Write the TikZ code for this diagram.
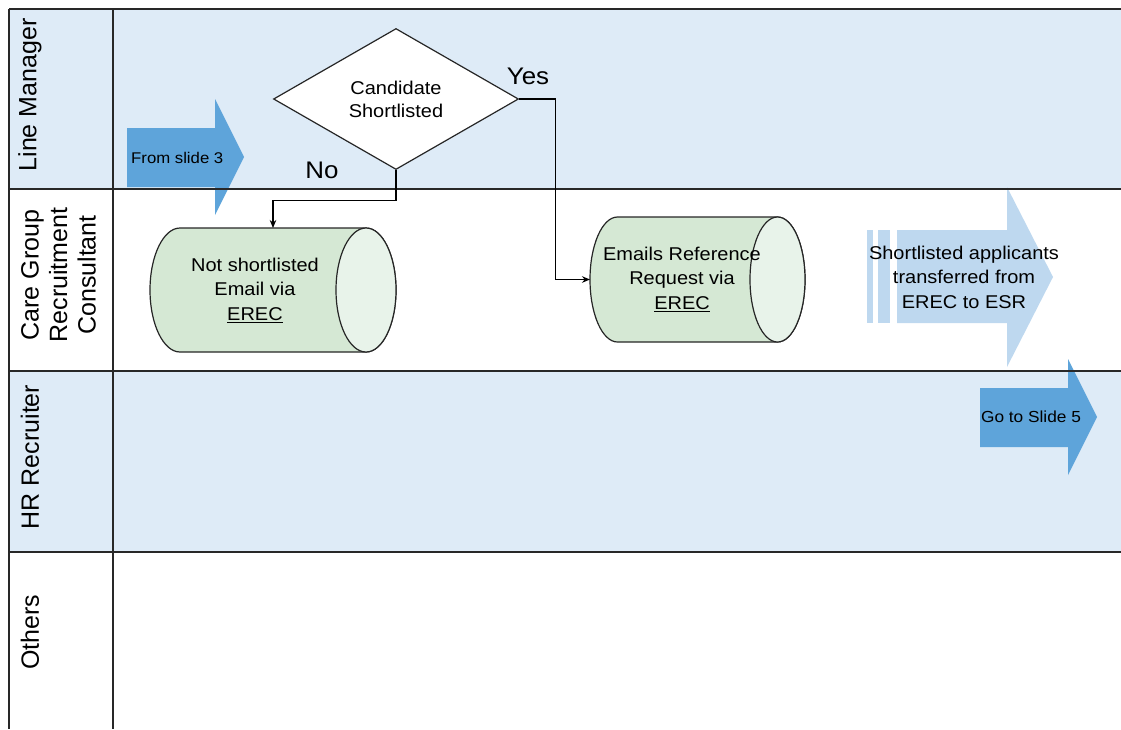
\documentclass[tikz,border=0pt]{standalone}
\usepackage{fontspec}
\setmainfont[FakeStretch=1.08]{Liberation Sans}
\newfontfamily\lanefont{Liberation Sans}
\usetikzlibrary{shapes.geometric,arrows.meta}

\definecolor{lanefill}{RGB}{222,235,247}
\definecolor{gridline}{RGB}{40,40,40}
\definecolor{midblue}{RGB}{94,164,218}
\definecolor{paleblue}{RGB}{190,216,239}
\definecolor{cylbody}{RGB}{213,232,212}
\definecolor{cylend}{RGB}{232,243,234}

\begin{document}
\begin{tikzpicture}[x=1pt,y=-1pt,
  lanerule/.style={draw=gridline, line width=1.8pt},
  conn/.style={draw=black, line width=1.2pt, -{Stealth[length=8pt,width=6.5pt]}},
  bodytext/.style={font=\fontsize{18.5}{24.5}\selectfont, align=center, text=black, inner sep=0pt},
  smalltext/.style={font=\fontsize{15.5}{18}\selectfont, text=black, inner sep=0pt},
  lanetext/.style={font=\lanefont\fontsize{25}{28.5}\selectfont, rotate=90, align=center, inner sep=0pt},
  answer/.style={font=\fontsize{24}{28}\selectfont, inner sep=0pt},
  decision/.style={diamond, draw=black!85, fill=white, line width=1.2pt,
    minimum width=245pt, minimum height=141pt, inner sep=0pt, aspect=1.74},
  cylframe/.style={inner sep=0pt, outer sep=0pt, draw=none},
  cylline/.style={draw=black!85, line width=1.2pt}]

\useasboundingbox (0,0) rectangle (1121,729);

% lane backgrounds
\fill[lanefill] (9,9) rectangle (1121,189);
\fill[lanefill] (9,371) rectangle (1121,552);

% off-page arrows
\fill[midblue] (127,128) -- (215,128) -- (215,99) -- (244,157) -- (215,215)
  -- (215,187) -- (127,187) -- cycle;
\node[smalltext, anchor=west] (from3) at (131,158) {From slide 3};

\fill[paleblue] (897,230) -- (1007,230) -- (1007,187) -- (1053,277) -- (1007,367)
  -- (1007,323) -- (897,323) -- cycle;
\fill[paleblue] (867,230) rectangle (873,323);
\fill[paleblue] (878,230) rectangle (890,323);
\node[bodytext] (transfer) at (964,277)
  {Shortlisted applicants\\transferred from\\EREC to ESR};

\fill[midblue] (980,388) -- (1068,388) -- (1068,359) -- (1097,417) -- (1068,475)
  -- (1068,447) -- (980,447) -- cycle;
\node[smalltext, font=\fontsize{16}{18}\selectfont] (goto5) at (1031,417) {Go to Slide 5};

% lane rules
\draw[lanerule] (9,9) -- (1121,9);
\draw[lanerule] (9,189) -- (1121,189);
\draw[lanerule] (9,371) -- (1121,371);
\draw[lanerule] (9,552) -- (1121,552);
\draw[lanerule] (9,9) -- (9,729);
\draw[lanerule] (113,9) -- (113,729);

% lane titles
\node[lanetext] (lm) at (30,95) {Line Manager};
\node[lanetext] (cg) at (58.5,275) {Care Group\\Recruitment\\Consultant};
\node[lanetext] (hr) at (30,457) {HR Recruiter};
\node[lanetext] (oth) at (30,632) {Others};

% decision
\node[decision, font=\fontsize{18.5}{23}\selectfont, align=center] (dec) at (396,99)
  {Candidate\\Shortlisted};
\node[answer] (yes) at (528,76) {Yes};
\node[answer] (no) at (322,170) {No};

% cylinder: not shortlisted
\node[cylframe, minimum width=246pt, minimum height=124pt] (notsl) at (273,290) {};
\filldraw[cylline, fill=cylbody] (366,228) -- (180,228)
  arc[start angle=270, end angle=90, x radius=30, y radius=62]
  -- (366,352) arc[start angle=90, end angle=-90, x radius=30, y radius=62] -- cycle;
\filldraw[cylline, fill=cylend] (366,290) ellipse [x radius=30, y radius=62];
\node[bodytext, align=center] (notsltext) at (255,290)
  {Not shortlisted\\Email via\\\underline{EREC}};

% cylinder: reference request
\node[cylframe, minimum width=215pt, minimum height=125pt] (emails) at (697.5,279.5) {};
\filldraw[cylline, fill=cylbody] (777.5,217) -- (617.5,217)
  arc[start angle=270, end angle=90, x radius=27.5, y radius=62.5]
  -- (777.5,342) arc[start angle=90, end angle=-90, x radius=27.5, y radius=62.5] -- cycle;
\filldraw[cylline, fill=cylend] (777.5,279.5) ellipse [x radius=27.5, y radius=62.5];
\node[bodytext, align=center] (emailstext) at (682,279)
  {Emails Reference\\Request via\\\underline{EREC}};

% connectors
\draw[conn] (dec.south) -- ++(0,30) -| (notsl.north);
\draw[conn] (dec.east) -- ++(36,0) |- (emails.west);

\end{tikzpicture}
\end{document}
